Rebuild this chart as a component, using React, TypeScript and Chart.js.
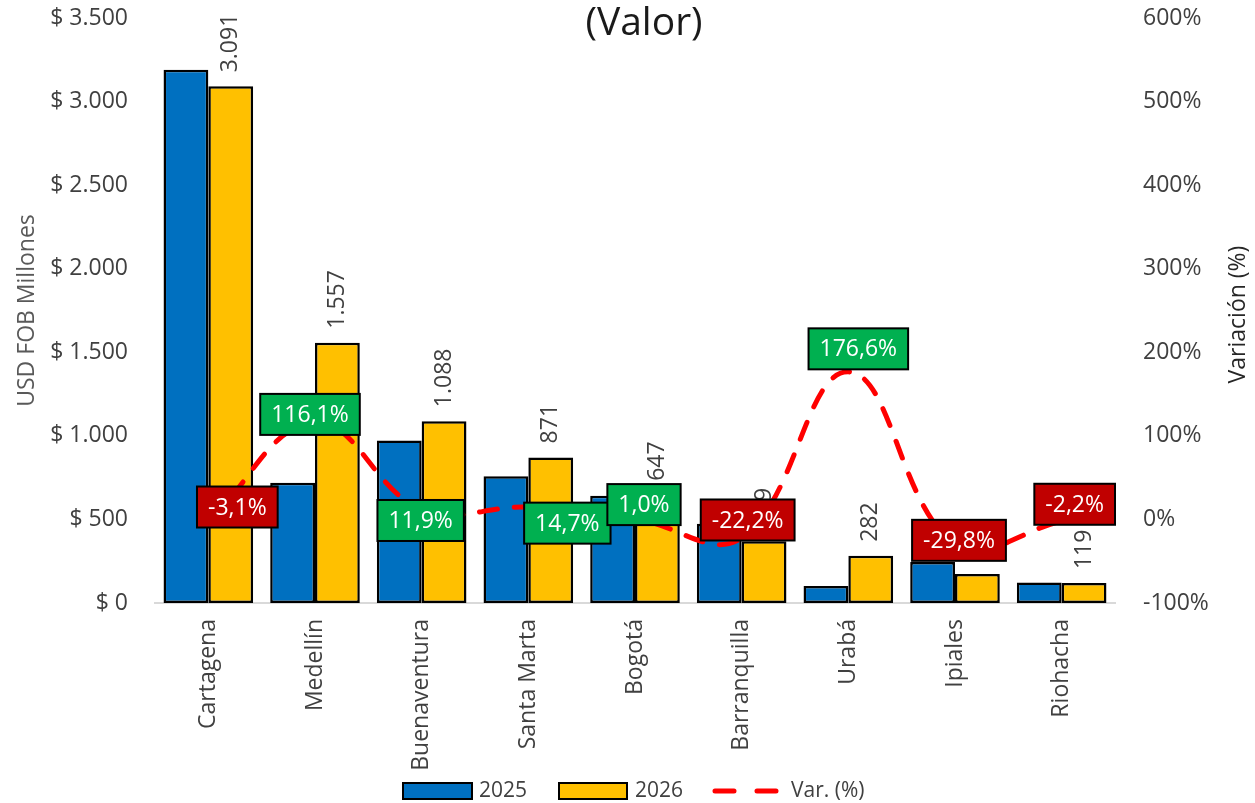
import React, { useEffect, useRef } from 'react';
import { Chart, registerables } from 'chart.js';

Chart.register(...registerables);

// ---- Data ----
const categories = ['Cartagena', 'Medellín', 'Buenaventura', 'Santa Marta', 'Bogotá', 'Barranquilla', 'Urabá', 'Ipiales', 'Riohacha'];
const values2025 = [3190, 720, 972, 759, 641, 474, 102, 246, 122];
const values2026 = [3091, 1557, 1088, 871, 647, 369, 282, 173, 119];
const variation = [-3.1, 116.1, 11.9, 14.7, 1.0, -22.2, 176.6, -29.8, -2.2];
const seriesNames = ['2025', '2026', 'Var. (%)'];
const titleText = '(Valor)';
const leftAxisTitle = 'USD FOB Millones';
const rightAxisTitle = 'Variación (%)';

// ---- Label placement (style config, not data) ----
const varLabelOffsets: [number, number][] = [
  [29, -15], [-5, -8], [-1, 11], [39, 16], [9, -14], [6, -18], [10, -23], [4, -4], [13, -17],
];

const FONT = "'Open Sans', sans-serif";
const BLUE = '#0070C0';
const YELLOW = '#FFC000';
const RED = '#FF0000';
const TEXT = '#404040';

const fmtThousands = (v: number) => Math.round(v).toString().replace(/\B(?=(\d{3})+(?!\d))/g, '.');
const fmtPct = (v: number) => v.toFixed(1).replace('.', ',') + '%';

const overlayPlugin = {
  id: 'overlay',
  afterDatasetDraw(chart: any, args: any) {
    if (args.index !== 1) return;
    const ctx = chart.ctx;
    const meta = chart.getDatasetMeta(1);
    ctx.save();
    ctx.font = `23px ${FONT}`;
    ctx.fillStyle = TEXT;
    ctx.textAlign = 'left';
    ctx.textBaseline = 'middle';
    meta.data.forEach((bar: any, i: number) => {
      ctx.save();
      ctx.translate(bar.x, bar.y - 14);
      ctx.rotate(-Math.PI / 2);
      ctx.fillText(fmtThousands(values2026[i]), 0, 0);
      ctx.restore();
    });
    ctx.restore();
  },
  afterDatasetsDraw(chart: any) {
    const ctx = chart.ctx;
    const meta = chart.getDatasetMeta(2);
    ctx.save();
    ctx.font = `23px ${FONT}`;
    ctx.textAlign = 'center';
    ctx.textBaseline = 'middle';
    meta.data.forEach((pt: any, i: number) => {
      const [dx, dy] = varLabelOffsets[i];
      const cx = pt.x + dx;
      const cy = pt.y + dy;
      const text = fmtPct(variation[i]);
      const w = ctx.measureText(text).width + 22;
      const h = 41;
      ctx.fillStyle = variation[i] >= 0 ? '#00B050' : '#C00000';
      ctx.fillRect(cx - w / 2, cy - h / 2, w, h);
      ctx.lineWidth = 2;
      ctx.strokeStyle = '#000000';
      ctx.strokeRect(cx - w / 2, cy - h / 2, w, h);
      ctx.fillStyle = '#FFFFFF';
      ctx.fillText(text, cx, cy + 1);
    });
    ctx.restore();
  },
  afterDraw(chart: any) {
    const ctx = chart.ctx;
    const area = chart.chartArea;
    ctx.save();
    // Title
    ctx.font = `39px ${FONT}`;
    ctx.fillStyle = '#1a1a1a';
    ctx.textAlign = 'center';
    ctx.textBaseline = 'middle';
    ctx.fillText(titleText, 644, 24);

    // Right axis title (reads bottom to top)
    ctx.save();
    ctx.font = `23px ${FONT}`;
    ctx.fillStyle = '#262626';
    ctx.translate(1238, (area.top + area.bottom) / 2 + 4);
    ctx.rotate(-Math.PI / 2);
    ctx.textAlign = 'center';
    ctx.textBaseline = 'middle';
    ctx.fillText(rightAxisTitle, 0, 0);
    ctx.restore();

    // Legend
    const cxLegend = (area.left + area.right) / 2;
    const y = 791;
    const start = cxLegend - 232;
    ctx.font = `21px ${FONT}`;
    ctx.textAlign = 'left';
    ctx.textBaseline = 'middle';
    // 2025
    ctx.fillStyle = BLUE;
    ctx.fillRect(start, y - 8, 69, 16);
    ctx.lineWidth = 2;
    ctx.strokeStyle = '#000';
    ctx.strokeRect(start, y - 8, 69, 16);
    ctx.fillStyle = TEXT;
    ctx.fillText(seriesNames[0], start + 76, y);
    // 2026
    const s2 = start + 156;
    ctx.fillStyle = YELLOW;
    ctx.fillRect(s2, y - 8, 68, 16);
    ctx.strokeRect(s2, y - 8, 68, 16);
    ctx.fillStyle = TEXT;
    ctx.fillText(seriesNames[1], s2 + 76, y);
    // Var line
    const s3 = start + 312;
    ctx.strokeStyle = RED;
    ctx.lineWidth = 5;
    ctx.lineCap = 'round';
    ctx.setLineDash([19, 23]);
    ctx.beginPath();
    ctx.moveTo(s3, y);
    ctx.lineTo(s3 + 63, y);
    ctx.stroke();
    ctx.setLineDash([]);
    ctx.fillStyle = TEXT;
    ctx.fillText(seriesNames[2], s3 + 76, y);
    ctx.restore();
  },
};

export default function App() {
  const ref = useRef<HTMLCanvasElement | null>(null);

  useEffect(() => {
    if (!ref.current) return;
    const chart = new Chart(ref.current, {
      type: 'bar',
      data: {
        labels: categories,
        datasets: [
          {
            type: 'bar',
            label: seriesNames[0],
            data: values2025,
            backgroundColor: BLUE,
            borderColor: '#000000',
            borderWidth: 2.5,
            borderSkipped: false,
            yAxisID: 'y',
            order: 1,
            categoryPercentage: 0.84,
            barPercentage: 1.0,
          },
          {
            type: 'bar',
            label: seriesNames[1],
            data: values2026,
            backgroundColor: YELLOW,
            borderColor: '#000000',
            borderWidth: 2.5,
            borderSkipped: false,
            yAxisID: 'y',
            order: 1,
            categoryPercentage: 0.84,
            barPercentage: 1.0,
          },
          {
            type: 'line',
            label: seriesNames[2],
            data: variation,
            borderColor: RED,
            borderWidth: 5,
            borderDash: [18, 17],
            borderCapStyle: 'round',
            tension: 0.4,
            pointRadius: 0,
            fill: false,
            yAxisID: 'y1',
            order: 0,
          } as any,
        ],
      },
      options: {
        responsive: false,
        animation: false,
        layout: { padding: { top: 18, left: 0, right: 0, bottom: 0 } },
        plugins: {
          legend: { display: false },
          tooltip: { enabled: false },
          title: { display: false },
        },
        scales: {
          x: {
            grid: { display: false, drawTicks: false },
            border: { display: true, color: '#D9D9D9', width: 2 },
            ticks: {
              color: TEXT,
              font: { family: FONT, size: 23 },
              minRotation: 90,
              maxRotation: 90,
              padding: 16,
              autoSkip: false,
            },
            afterFit: (scale: any) => { scale.height = 200; },
          },
          y: {
            position: 'left',
            min: 0,
            max: 3500,
            grid: { display: false, drawTicks: false },
            border: { display: false },
            ticks: {
              stepSize: 500,
              color: TEXT,
              font: { family: FONT, size: 23 },
              padding: 27,
              callback: (v: any) => '$ ' + fmtThousands(Number(v)),
            },
            title: {
              display: true,
              text: leftAxisTitle,
              color: '#595959',
              font: { family: FONT, size: 23 },
              padding: { top: 14, bottom: 0 },
            },
            afterFit: (scale: any) => {
              scale.width = 155;
              scale.paddingTop = 12;
              scale.paddingBottom = 12;
            },
          },
          y1: {
            position: 'right',
            min: -100,
            max: 600,
            grid: { display: false, drawTicks: false },
            border: { display: false },
            ticks: {
              stepSize: 100,
              color: TEXT,
              font: { family: FONT, size: 23 },
              padding: 28,
              callback: (v: any) => v + '%',
            },
            title: { display: false },
            afterFit: (scale: any) => {
              scale.width = 140;
              scale.paddingTop = 12;
              scale.paddingBottom = 12;
            },
          },
        },
      },
      plugins: [overlayPlugin],
    });
    return () => chart.destroy();
  }, []);

  return (
    <div style={{ position: 'fixed', left: 0, top: 0, width: 1255, height: 803, background: '#fff' }}>
      <canvas ref={ref} width={1255} height={803} />
    </div>
  );
}
